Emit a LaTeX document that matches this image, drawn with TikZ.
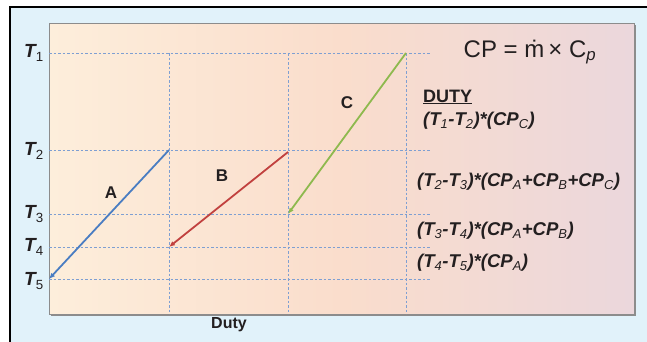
\documentclass[tikz,border=0pt]{standalone}
\usepackage{fontspec}
\setmainfont{Liberation Sans}
\usetikzlibrary{arrows.meta}
\definecolor{outerbg}{HTML}{E1F2FA}
\definecolor{gridblue}{HTML}{7E9FD2}
\definecolor{lineA}{HTML}{4A7DC2}
\definecolor{lineB}{HTML}{C1413F}
\definecolor{lineC}{HTML}{8EB94E}
\definecolor{panelL}{HTML}{FDEEDB}
\definecolor{panelM}{HTML}{FADDCC}
\definecolor{panelR}{HTML}{EBD7DC}
\definecolor{txt}{HTML}{231F20}
\newcommand{\sbx}[1]{\textsubscript{\mdseries #1}}
\tikzset{
  grid/.style={gridblue, line width=0.8pt, dash pattern=on 2.5pt off 2pt},
  flow/.style={line width=1.8pt, -{Latex[length=6pt,width=5pt]}},
  tlabel/.style={anchor=west, font=\fontsize{19}{19}\selectfont\bfseries\itshape, text=txt, inner sep=0pt},
  stream/.style={font=\fontsize{17}{17}\selectfont\bfseries, text=txt, inner sep=0pt},
  duty/.style={anchor=west, font=\fontsize{18.5}{18.5}\selectfont\bfseries\itshape, text=txt, inner sep=0pt},
}
\begin{document}
\begin{tikzpicture}[x=1pt,y=-1pt]
\useasboundingbox (0,0) rectangle (647,341);
\fill[white] (0,0) rectangle (647,341);
\begin{scope}
\clip (0,0) rectangle (647,341);
\draw[line width=2pt, fill=outerbg] (9.5,6.5) rectangle (680,380);
\end{scope}
% panel
\fill[black!45] (51,25) rectangle (636,316);
\shade[left color=panelL, right color=panelR, middle color=panelM] (49,23) rectangle (634,314);
\draw[black!45, line width=1pt] (49,23) rectangle (634,314);
% coordinates
\coordinate (h1l) at (49,53);  \coordinate (h1r) at (431,53);
\coordinate (h2l) at (49,150); \coordinate (h2r) at (431,150);
\coordinate (h3l) at (49,214); \coordinate (h3r) at (431,214);
\coordinate (h4l) at (49,247); \coordinate (h4r) at (431,247);
\coordinate (h5l) at (49,279); \coordinate (h5r) at (431,279);
\coordinate (v1t) at (169,53); \coordinate (v1b) at (169,314);
\coordinate (v2t) at (288,53); \coordinate (v2b) at (288,314);
\coordinate (v3t) at (406,53); \coordinate (v3b) at (406,314);
\foreach \i in {1,...,5} {\draw[grid] (h\i l) -- (h\i r);}
\foreach \i in {1,2,3} {\draw[grid] (v\i t) -- (v\i b);}
% streams
\coordinate (As) at (169,150); \coordinate (Ae) at (49,279);
\coordinate (Bs) at (288,152); \coordinate (Be) at (169,247);
\coordinate (Cs) at (406,53);  \coordinate (Ce) at (288,214);
\draw[flow, lineA] (As) -- (Ae);
\draw[flow, lineB] (Bs) -- (Be);
\draw[flow, lineC] (Cs) -- (Ce);
\node[stream] (labA) at (111,193) {A};
\node[stream] (labB) at (222,176) {B};
\node[stream] (labC) at (347,103) {C};
% T labels
\node[tlabel] (T1) at (24,53) {T\sbx{\upshape 1}};
\node[tlabel] (T2) at (24,151) {T\sbx{\upshape 2}};
\node[tlabel] (T3) at (24,214) {T\sbx{\upshape 3}};
\node[tlabel] (T4) at (24,247) {T\sbx{\upshape 4}};
\node[tlabel] (T5) at (24,281) {T\sbx{\upshape 5}};
\node[stream, font=\fontsize{16}{16}\selectfont\bfseries] (xlab) at (229,325) {Duty};
% equation
\node[font=\fontsize{24}{24}\selectfont, text=txt, inner sep=0pt] (eq) at (530,52) {CP = ṁ\,× C\textsubscript{\itshape p}};
% duty
\node[anchor=west, font=\fontsize{18}{18}\selectfont\bfseries, text=txt, inner sep=0pt] (dutyh) at (423,97) {\underline{DUTY}};
\node[duty] (d1) at (423,121) {(T\sbx{1}-T\sbx{2})*(CP\sbx{C})};
\node[duty] (d2) at (417,182) {(T\sbx{2}-T\sbx{3})*(CP\sbx{A}+CP\sbx{B}+CP\sbx{C})};
\node[duty] (d3) at (417,231) {(T\sbx{3}-T\sbx{4})*(CP\sbx{A}+CP\sbx{B})};
\node[duty] (d4) at (417,263) {(T\sbx{4}-T\sbx{5})*(CP\sbx{A})};
\end{tikzpicture}
\end{document}
